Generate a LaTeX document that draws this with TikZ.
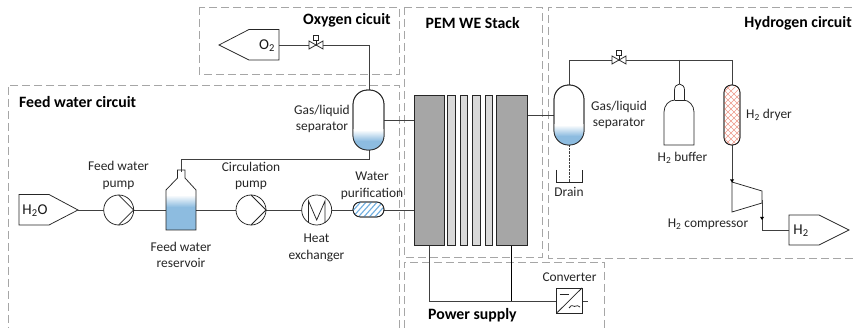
\documentclass[tikz,border=0pt]{standalone}
\usepackage{fontspec}
\setmainfont{Carlito}
\usetikzlibrary{patterns,fadings}
\definecolor{dashc}{HTML}{A6A6A6}
\definecolor{linec}{HTML}{404040}
\definecolor{waterc}{HTML}{8DBCE0}
\definecolor{platec}{HTML}{A6A6A6}
\definecolor{thinc}{HTML}{D9D9D9}
\definecolor{hatchb}{HTML}{6FAEE0}
\definecolor{hatchr}{HTML}{EE9A8C}
\tikzset{
  region/.style={draw=dashc,line width=0.9pt,dash pattern=on 8pt off 4pt},
  pipe/.style={draw=linec,line width=0.9pt},
  equip/.style={draw=black!85,line width=0.75pt},
  lbl/.style={font=\fontsize{13.4}{16.6}\selectfont,text=black!85,align=center,inner sep=0pt},
  taglbl/.style={font=\fontsize{15}{17}\selectfont,text=black!90,inner sep=0pt},
  title/.style={font=\fontsize{15.8}{18}\selectfont\bfseries,text=black,inner sep=0pt},
  plate/.style={equip,fill=platec},
  thinplate/.style={equip,fill=thinc},
  pt/.style={circle,inner sep=0pt,minimum size=0pt},
}
\newcommand{\pumpdraw}[2]{%
  \draw[equip,fill=white] (#1,#2) circle (15);
  \draw[equip] (#1,#2-15) -- (#1+15,#2) -- (#1,#2+15);
}
\newcommand{\valvedraw}[2]{%
  \draw[equip,fill=white] (#1-7,#2-4) -- (#1+7,#2+4) -- (#1+7,#2-4) -- (#1-7,#2+4) -- cycle;
  \draw[equip] (#1,#2) -- (#1,#2-5);
  \draw[equip,fill=white] (#1-2.7,#2-10) rectangle (#1+2.7,#2-5);
}
\newcommand{\vessel}[5]{% x1 x2 y1 y2 name
  \node[pt] (#5) at ({(#1+#2)/2},{(#3+#4)/2}) {};
  \draw[equip,fill=white,rounded corners=14.5] (#1,#3) rectangle (#2,#4);
  \begin{scope}
    \clip[rounded corners=14.5] (#1,#3) rectangle (#2,#4);
    \shade[top color=white,bottom color=waterc] (#1,#4-20) rectangle (#2,#4-9);
    \fill[waterc] (#1,#4-9.1) rectangle (#2,#4);
  \end{scope}
  \draw[equip,rounded corners=14.5] (#1,#3) rectangle (#2,#4);
}
\begin{document}
\begin{tikzpicture}[x=1pt,y=-1pt]
\useasboundingbox (0,0) rectangle (853,328);
\fill[white] (0,0) rectangle (853,328);
% regions
\draw[region] (199,7) rectangle (399,74);
\draw[region] (399,328) -- (399,85) -- (8,85) -- (8,328);
\draw[region] (404,7) rectangle (542,257);
\draw[region] (853,258) -- (548,258) -- (548,7) -- (853,7);
\draw[region] (404,328) -- (404,262) -- (604,262) -- (604,328);
% anchors
\coordinate (o2line) at (279,45);
\coordinate (o2corner) at (369,45);
\coordinate (sepObot) at (369,159);
\coordinate (resTop) at (181,159);
\coordinate (h2corner) at (569,60);
\coordinate (h2end) at (732,60);
\coordinate (busL) at (429,301);
\coordinate (busR) at (511.5,301);
\coordinate (busEnd) at (588,301);
% tags
\node[pt] (h2oT) at (78,210) {};
\draw[equip] (19,194.5) -- (49,194.5) -- (78,210) -- (49,225) -- (19,225) -- cycle;
\node[taglbl] (h2oL) at (35,210.5) {H\textsubscript{2}O};
\node[pt] (o2T) at (219,45) {};
\draw[equip] (279,29.5) -- (249,29.5) -- (219,45) -- (249,60) -- (279,60) -- cycle;
\node[taglbl] (o2L) at (267,46) {O\textsubscript{2}};
\node[pt] (h2T) at (789,230) {};
\draw[equip] (789,215) -- (819,215) -- (849,230) -- (819,245) -- (789,245) -- cycle;
\node[taglbl] (h2L) at (801,231) {H\textsubscript{2}};
% pipes
\coordinate (a1) at (414,210);
\draw[pipe] (h2oT) -- (a1);
\draw[pipe] (o2line) -- (o2corner) -- (369,95);
\draw[pipe] (369,145) -- (sepObot) -- (resTop) -- (181,172);
\draw[pipe] (380,120) -- (414,120);
\draw[pipe] (527,115) -- (556,115);
\draw[pipe] (569,90) -- (h2corner) -- (h2end) -- (732,182);
\draw[pipe] (679,60) -- (679,85);
\draw[pipe] (762,200) -- (762,230) -- (h2T);
\draw[pipe] (429,245) -- (busL) -- (busEnd);
\draw[line width=0.8pt,black] (busR) -- (511.5,245);
\draw[line width=0.7pt,linec,dash pattern=on 0.7pt off 0.7pt] (569,145) -- (569,182);
% drain
\draw[equip] (556.5,170) -- (556.5,182) -- (582,182) -- (582,170);
% stack
\draw[plate] (414,95) rectangle (444,245);
\draw[thinplate] (447.5,95) rectangle (455,245);
\draw[thinplate] (460,95) rectangle (467.5,245);
\draw[thinplate] (472.5,95) rectangle (480,245);
\draw[thinplate] (485,95) rectangle (492.5,245);
\draw[plate] (496.5,95) rectangle (527,245);
% vessels
\vessel{353}{384}{90}{150}{sepO}
\vessel{554}{584}{85}{145}{sepH}
% valves
\valvedraw{316}{45}
\valvedraw{619}{60}
% pumps
\pumpdraw{118.7}{210}
\pumpdraw{251}{210}
% reservoir
\begin{scope}
  \clip (166,190) rectangle (196,230);
  \shade[top color=white,bottom color=waterc] (166,195) rectangle (196,207);
  \fill[waterc] (166,206.9) rectangle (196,230);
\end{scope}
\draw[equip] (177.5,178) -- (177.5,170) -- (185,170) -- (185,178) -- (196,190) -- (196,230) -- (166,230) -- (166,190) -- cycle;
% heat exchanger
\draw[equip,fill=white] (316.7,210) circle (15);
\draw[equip] (308.5,223) -- (308.5,201) -- (316.7,220) -- (325,201) -- (325,223);
% purifier
\draw[equip,fill=white,rounded corners=7.4] (353,202) rectangle (384,217);
\begin{scope}
  \clip[rounded corners=7.4] (353,202) rectangle (384,217);
  \foreach \k in {0,...,9} {
    \draw[line width=1.1pt,hatchb] ({340+\k*5.5},219) -- ({340+\k*5.5+17},200);
  }
\end{scope}
\draw[equip,rounded corners=7.4] (353,202) rectangle (384,217);
% buffer
\draw[equip,fill=white] (664,145) -- (664,112) arc[start angle=180,end angle=270,x radius=11,y radius=12] -- (683,100) arc[start angle=270,end angle=360,x radius=11,y radius=12] -- (694,145) -- cycle;
\draw[line width=1.3pt,black!85] (674.5,100) -- (684.5,100);
\draw[equip,fill=white] (674.5,100) -- (674.5,90) arc[start angle=180,end angle=360,x radius=5,y radius=6] -- (684.5,100);
% dryer
\draw[equip,fill=white,rounded corners=7.5] (724,85) rectangle (740,145);
\begin{scope}
  \clip[rounded corners=7.5] (724,85) rectangle (740,145);
  \foreach \k in {0,...,16} {
    \draw[line width=0.5pt,hatchr] (710,{70+\k*6}) -- (750,{110+\k*6});
    \draw[line width=0.5pt,hatchr] (710,{110+\k*6-40}) -- (750,{70+\k*6-40});
  }
\end{scope}
\draw[equip,rounded corners=7.5] (724,85) rectangle (740,145);
% compressor
\draw[equip,fill=white] (732,182) -- (762,191) -- (762,203) -- (732,212) -- cycle;
\fill[black] (730,179.5) -- (734,179.5) -- (732,182.5) -- cycle;
\fill[black] (760,217) -- (764,217) -- (762,220) -- cycle;
% converter
\draw[equip,fill=white] (556.7,288) rectangle (582,313);
\draw[equip] (556.7,313) -- (582,288);
\draw[equip] (559.5,294) -- (569,294);
\draw[equip] (569,308) .. controls (572,303) and (574,308) .. (576,306) .. controls (577,305) and (578,306) .. (580,307);
% labels
\node[title,anchor=west] (t1) at (303,20.5) {Oxygen cicuit};
\node[title,anchor=west] (t2) at (425.5,23) {PEM WE Stack};
\node[title,anchor=east] (t3) at (852,23) {Hydrogen circuit};
\node[title,anchor=west] (t4) at (19,102) {Feed water circuit};
\node[title,anchor=west] (t5) at (428,315) {Power supply};
\node[lbl] (l1) at (322,119) {Gas/liquid\\separator};
\node[lbl] (l2) at (619,115) {Gas/liquid\\separator};
\node[lbl] (l3) at (118.5,175.5) {Feed water\\pump};
\node[lbl] (l4) at (251,176) {Circulation\\pump};
\node[lbl] (l5) at (181,255) {Feed water\\reservoir};
\node[lbl] (l6) at (316.5,248) {Heat\\exchanger};
\node[lbl] (l7) at (372,186) {Water\\purification};
\node[lbl] (l8) at (569,191.5) {Drain};
\node[lbl] (l9) at (682.5,157.5) {H\textsubscript{2} buffer};
\node[lbl,anchor=west] (l10) at (746,114.5) {H\textsubscript{2} dryer};
\node[lbl] (l11) at (708,224) {H\textsubscript{2} compressor};
\node[lbl] (l12) at (569.5,277) {Converter};
\end{tikzpicture}
\end{document}
